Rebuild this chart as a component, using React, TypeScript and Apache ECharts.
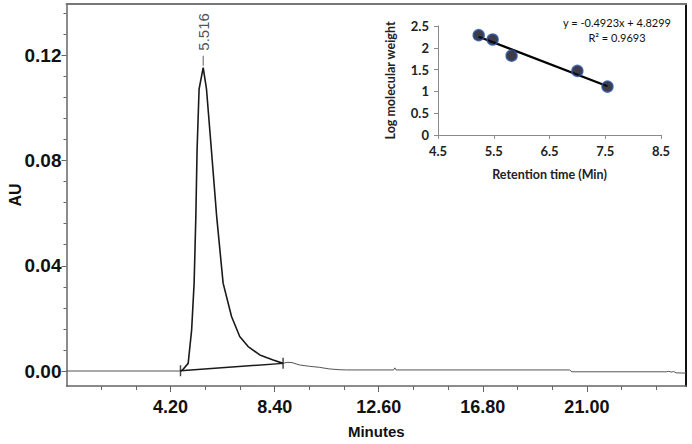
import { useEffect, useRef } from "react";
import * as echarts from "echarts";

// Chromatogram (minutes, AU)
const preTimes = [0, 4.6];
const preAU = [0, 0];
const peakTimes = [4.6, 4.68, 4.91, 5.05, 5.15, 5.22, 5.27, 5.35, 5.516, 5.65, 5.83, 6.06, 6.32, 6.66, 6.99, 7.33, 7.8, 8.34, 8.74];
const peakAU = [0, 0.0004, 0.0029, 0.0156, 0.0334, 0.0588, 0.0842, 0.1071, 0.1153, 0.1071, 0.0861, 0.0588, 0.0334, 0.0207, 0.0131, 0.0093, 0.0061, 0.0042, 0.0029];
const tailTimes = [8.74, 8.9, 9.1, 9.4, 9.8, 10.2, 10.6, 11.0, 11.3, 13.2, 13.25, 13.3, 20.3, 20.4, 24.2, 24.3, 24.4, 24.5, 24.6, 25];
const tailAU = [0.0029, 0.0033, 0.0032, 0.0023, 0.0018, 0.0014, 0.0008, 0.0005, 0.0004, 0.0004, 0.0012, 0.0004, 0.0004, -0.0003, -0.0003, -0.0001, -0.0004, -0.0002, -0.0007, -0.0008];
const integrationTimes = [4.6, 8.74];
const integrationAU = [0.0001, 0.0029];
const apexTime = 5.516;
const apexAU = 0.1153;
const apexLabel = "5.516";

// Main axes ticks
const xMajorTicks = [4.2, 8.4, 12.6, 16.8, 21.0];
const xMinorTicks = [1.4, 2.8, 5.6, 7.0, 9.8, 11.2, 14.0, 15.4, 18.2, 19.6, 22.4, 23.8];
const yMajorTicks = [0, 0.04, 0.08, 0.12];
const yMinorTicks = [0.008, 0.016, 0.024, 0.032, 0.048, 0.056, 0.064, 0.072, 0.088, 0.096, 0.104, 0.112, 0.128, 0.136];

// Inset calibration
const calTimes = [5.23, 5.48, 5.82, 7.0, 7.54];
const calLogMW = [2.29, 2.19, 1.82, 1.47, 1.11];
const trendSlope = -0.4923;
const trendIntercept = 4.8299;
const trendRange = [5.23, 7.54];
const insetXTicks = [4.5, 5.5, 6.5, 7.5, 8.5];
const equationText = "y = -0.4923x + 4.8299";
const r2Text = "R² = 0.9693";

const zip = (a: number[], b: number[]) => a.map((v, i) => [v, b[i]]);

const MAIN_FONT = "'Liberation Sans', Arial, sans-serif";
const INSET_FONT = "Lato, 'Open Sans', sans-serif";

export default function App() {
  const ref = useRef<HTMLDivElement>(null);
  useEffect(() => {
    if (!ref.current) return;
    const chart = echarts.init(ref.current, null, { renderer: "svg" });
    const mainLabel = { fontFamily: MAIN_FONT, fontWeight: "bold" as const, color: "#111" };
    const insetLabel = { fontFamily: INSET_FONT, fontWeight: "bold" as const, color: "#222" };
    chart.setOption({
      animation: false,
      backgroundColor: "#fff",
      grid: [
        { left: 66.5, top: 4, right: 6, bottom: 58, containLabel: false, outerBoundsMode: "none" },
        { left: 438, top: 26, width: 223, height: 109, containLabel: false, outerBoundsMode: "none" },
      ],
      xAxis: [
        {
          gridIndex: 0, type: "value", min: 0, max: 25, position: "bottom",
          axisLine: { onZero: false, lineStyle: { color: "#666", width: 1.5 } },
          axisTick: { customValues: xMajorTicks, length: 6, lineStyle: { color: "#666" } },
          axisLabel: { customValues: xMajorTicks, formatter: (v: number) => v.toFixed(2), fontSize: 18, margin: 12, ...mainLabel },
          splitLine: { show: false },
          name: "Minutes", nameLocation: "middle", nameGap: 37.5, nameMoveOverlap: false,
          nameTextStyle: { fontSize: 15, ...mainLabel },
        },
        {
          gridIndex: 0, type: "value", min: 0, max: 25, position: "bottom",
          axisLine: { show: false, onZero: false },
          axisTick: { customValues: xMinorTicks, length: 4, lineStyle: { color: "#666" } },
          axisLabel: { show: false },
          splitLine: { show: false },
        },
        {
          gridIndex: 0, type: "value", min: 0, max: 25, position: "top",
          axisLine: { onZero: false, lineStyle: { color: "#777", width: 2 } },
          axisTick: { show: false }, axisLabel: { show: false }, splitLine: { show: false },
        },
        {
          gridIndex: 1, type: "value", min: 4.5, max: 8.5,
          axisLine: { onZero: false, lineStyle: { color: "#8a8a8a", width: 1 } },
          axisTick: { customValues: insetXTicks, length: 4, lineStyle: { color: "#8a8a8a" } },
          axisLabel: { customValues: insetXTicks, formatter: (v: number) => v.toFixed(1), fontSize: 13, margin: 9, ...insetLabel },
          splitLine: { show: false },
          name: "Retention time (Min)", nameLocation: "middle", nameGap: 32.5, nameMoveOverlap: false,
          nameTextStyle: { fontSize: 12.5, ...insetLabel },
        },
      ],
      yAxis: [
        {
          gridIndex: 0, type: "value", min: -0.0057, max: 0.1395, position: "left",
          axisLine: { onZero: false, lineStyle: { color: "#666", width: 1.5 } },
          axisTick: { customValues: yMajorTicks, length: 5, lineStyle: { color: "#666" } },
          axisLabel: { customValues: yMajorTicks, formatter: (v: number) => v.toFixed(2), fontSize: 19, margin: 5, ...mainLabel },
          splitLine: { show: false },
          name: "AU", nameLocation: "middle", nameGap: 43, nameMoveOverlap: false,
          nameTextStyle: { fontSize: 16, ...mainLabel },
        },
        {
          gridIndex: 0, type: "value", min: -0.0057, max: 0.1395, position: "left",
          axisLine: { show: false, onZero: false },
          axisTick: { customValues: yMinorTicks, length: 3, lineStyle: { color: "#666" } },
          axisLabel: { show: false }, splitLine: { show: false },
        },
        {
          gridIndex: 0, type: "value", min: -0.0057, max: 0.1395, position: "right",
          axisLine: { onZero: false, lineStyle: { color: "#111", width: 2 } },
          axisTick: { show: false }, axisLabel: { show: false }, splitLine: { show: false },
        },
        {
          gridIndex: 1, type: "value", min: 0, max: 2.5, interval: 0.5,
          axisLine: { show: true, onZero: false, lineStyle: { color: "#8a8a8a", width: 1 } },
          axisTick: { show: true, length: 4, lineStyle: { color: "#8a8a8a" } },
          axisLabel: { fontSize: 13, margin: 9, ...insetLabel },
          splitLine: { show: false },
          name: "Log molecular weight", nameLocation: "middle", nameGap: 41, nameMoveOverlap: false,
          nameTextStyle: { fontSize: 12.5, ...insetLabel },
        },
      ],
      series: [
        { type: "line", xAxisIndex: 0, yAxisIndex: 0, data: zip(preTimes, preAU), symbol: "none", lineStyle: { color: "#555", width: 1 } },
        { type: "line", xAxisIndex: 0, yAxisIndex: 0, data: zip(tailTimes, tailAU), symbol: "none", lineStyle: { color: "#555", width: 1 } },
        { type: "line", xAxisIndex: 0, yAxisIndex: 0, data: zip(peakTimes, peakAU), symbol: "none", lineStyle: { color: "#1a1a1a", width: 1.6 } },
        { type: "line", xAxisIndex: 0, yAxisIndex: 0, data: zip(integrationTimes, integrationAU), symbol: "none", lineStyle: { color: "#1a1a1a", width: 1.4 } },
        {
          type: "scatter", xAxisIndex: 0, yAxisIndex: 0, data: zip(integrationTimes, integrationAU),
          symbol: "rect", symbolSize: [1.5, 11], itemStyle: { color: "#1a1a1a" },
        },
        {
          type: "scatter", xAxisIndex: 0, yAxisIndex: 0, data: [[apexTime, apexAU]],
          symbol: "rect", symbolSize: [1, 10], symbolOffset: [0, -7], itemStyle: { color: "#333" },
          label: {
            show: true, formatter: apexLabel, position: "top", distance: 5, rotate: 90,
            align: "left", verticalAlign: "middle", fontSize: 15, fontFamily: MAIN_FONT, color: "#222",
          },
        },
        {
          type: "line", xAxisIndex: 3, yAxisIndex: 3,
          data: trendRange.map((x) => [x, trendSlope * x + trendIntercept]),
          symbol: "none", lineStyle: { color: "#000", width: 2.2 }, z: 2,
        },
        {
          type: "scatter", xAxisIndex: 3, yAxisIndex: 3, data: zip(calTimes, calLogMW),
          symbol: "circle", symbolSize: 11, z: 3,
          itemStyle: { color: "#0b0b20", borderColor: "#2f57a0", borderWidth: 1.5 },
        },
      ],
      graphic: [
        {
          type: "text", x: 617, y: 22,
          style: { text: equationText, textAlign: "center", textVerticalAlign: "middle", fontSize: 11, fontFamily: INSET_FONT, fill: "#111" },
        },
        {
          type: "text", x: 617, y: 37,
          style: { text: r2Text, textAlign: "center", textVerticalAlign: "middle", fontSize: 11, fontFamily: INSET_FONT, fill: "#111" },
        },
      ],
    });
    return () => chart.dispose();
  }, []);
  return (
    <div
      ref={ref}
      style={{ position: "fixed", left: 0, top: 0, width: 692, height: 444, background: "#fff" }}
    />
  );
}
